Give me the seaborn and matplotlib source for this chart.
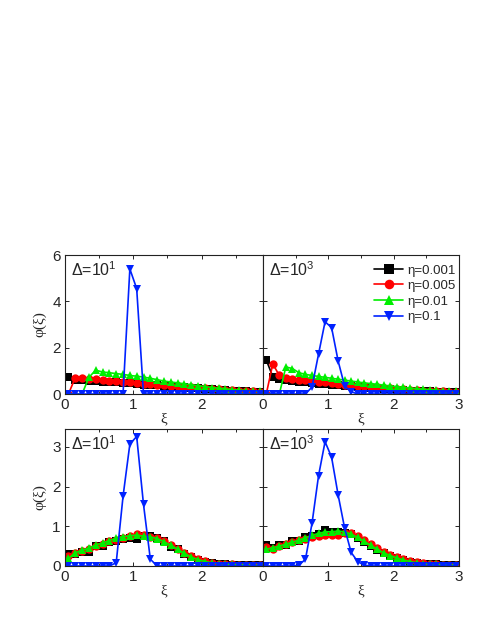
import numpy as np
import pandas as pd
import matplotlib
matplotlib.use("Agg")
import matplotlib.pyplot as plt
import seaborn as sns

# bin centres
xi = [0.05, 0.15, 0.25, 0.35, 0.45, 0.55, 0.65, 0.75, 0.85, 0.95,
      1.05, 1.15, 1.25, 1.35, 1.45, 1.55, 1.65, 1.75, 1.85, 1.95,
      2.05, 2.15, 2.25, 2.35, 2.45, 2.55, 2.65, 2.75, 2.85, 2.95]

etas = ["η=0.001", "η=0.005", "η=0.01", "η=0.1"]
colors = ["#000000", "#ff0000", "#00ee00", "#0022ff"]
markers = ["s", "o", "^", "v"]

# ---- top left, Delta = 10^1
tl_001 = [0.72, 0.62, 0.60, 0.58, 0.56, 0.54, 0.52, 0.50, 0.48, 0.46,
          0.43, 0.41, 0.39, 0.37, 0.35, 0.33, 0.31, 0.29, 0.27, 0.25,
          0.23, 0.21, 0.19, 0.17, 0.15, 0.13, 0.12, 0.10, 0.09, 0.08]
tl_005 = [0.00, 0.70, 0.70, 0.67, 0.64, 0.61, 0.58, 0.55, 0.52, 0.50,
          0.47, 0.45, 0.42, 0.40, 0.38, 0.36, 0.33, 0.31, 0.29, 0.27,
          0.25, 0.23, 0.21, 0.19, 0.17, 0.15, 0.13, 0.12, 0.10, 0.09]
tl_01 = [0.00, 0.00, 0.00, 0.72, 1.03, 0.95, 0.92, 0.88, 0.85, 0.80,
         0.77, 0.73, 0.68, 0.62, 0.56, 0.52, 0.48, 0.44, 0.40, 0.36,
         0.32, 0.28, 0.25, 0.22, 0.19, 0.17, 0.15, 0.13, 0.11, 0.10]
tl_1 = [0.00, 0.00, 0.00, 0.00, 0.00, 0.00, 0.00, 0.00, 0.00, 5.40,
        4.55, 0.00, 0.00, 0.00, 0.00, 0.00, 0.00, 0.00, 0.00, 0.00,
        0.00, 0.00, 0.00, 0.00, 0.00, 0.00, 0.00, 0.00, 0.00, 0.00]

# ---- top right, Delta = 10^3
tr_001 = [1.47, 0.75, 0.65, 0.60, 0.57, 0.54, 0.51, 0.48, 0.45, 0.42,
          0.40, 0.37, 0.35, 0.33, 0.31, 0.29, 0.27, 0.25, 0.23, 0.21,
          0.19, 0.17, 0.15, 0.14, 0.12, 0.11, 0.10, 0.09, 0.08, 0.07]
tr_005 = [0.00, 1.30, 0.80, 0.70, 0.66, 0.62, 0.59, 0.56, 0.53, 0.50,
          0.47, 0.44, 0.41, 0.38, 0.36, 0.33, 0.31, 0.29, 0.27, 0.25,
          0.23, 0.21, 0.19, 0.17, 0.15, 0.14, 0.12, 0.11, 0.10, 0.09]
tr_01 = [0.00, 0.00, 0.00, 1.17, 1.10, 0.92, 0.85, 0.80, 0.76, 0.72,
         0.68, 0.64, 0.60, 0.56, 0.52, 0.48, 0.45, 0.42, 0.38, 0.35,
         0.32, 0.29, 0.26, 0.23, 0.21, 0.19, 0.17, 0.15, 0.13, 0.12]
tr_1 = [0.00, 0.00, 0.00, 0.00, 0.00, 0.00, 0.00, 0.30, 1.72, 3.12,
        2.87, 1.43, 0.34, 0.10, 0.00, 0.00, 0.00, 0.00, 0.00, 0.00,
        0.00, 0.00, 0.00, 0.00, 0.00, 0.00, 0.00, 0.00, 0.00, 0.00]

# ---- bottom left, Delta = 10^1
bl_001 = [0.30, 0.30, 0.36, 0.36, 0.50, 0.50, 0.60, 0.62, 0.68, 0.70,
          0.68, 0.75, 0.75, 0.70, 0.62, 0.48, 0.42, 0.30, 0.22, 0.15,
          0.10, 0.08, 0.05, 0.04, 0.03, 0.03, 0.02, 0.02, 0.02, 0.02]
bl_005 = [0.25, 0.33, 0.38, 0.43, 0.50, 0.55, 0.62, 0.65, 0.70, 0.75,
          0.80, 0.78, 0.74, 0.70, 0.63, 0.53, 0.43, 0.33, 0.24, 0.17,
          0.12, 0.08, 0.06, 0.05, 0.04, 0.03, 0.03, 0.02, 0.02, 0.02]
bl_01 = [0.19, 0.33, 0.40, 0.45, 0.53, 0.58, 0.64, 0.70, 0.74, 0.76,
         0.78, 0.75, 0.73, 0.69, 0.61, 0.52, 0.42, 0.32, 0.22, 0.16,
         0.11, 0.08, 0.06, 0.05, 0.04, 0.03, 0.03, 0.02, 0.02, 0.02]
bl_1 = [0.00, 0.00, 0.00, 0.00, 0.00, 0.00, 0.00, 0.08, 1.75, 3.07,
        3.26, 1.55, 0.17, 0.00, 0.00, 0.00, 0.00, 0.00, 0.00, 0.00,
        0.00, 0.00, 0.00, 0.00, 0.00, 0.00, 0.00, 0.00, 0.00, 0.00]

# ---- bottom right, Delta = 10^3
br_001 = [0.52, 0.45, 0.52, 0.52, 0.62, 0.62, 0.72, 0.75, 0.80, 0.90,
          0.85, 0.85, 0.82, 0.80, 0.70, 0.60, 0.50, 0.40, 0.32, 0.25,
          0.20, 0.14, 0.10, 0.08, 0.06, 0.05, 0.04, 0.03, 0.03, 0.02]
br_005 = [0.48, 0.42, 0.50, 0.55, 0.60, 0.65, 0.68, 0.72, 0.76, 0.78,
          0.78, 0.78, 0.82, 0.84, 0.75, 0.65, 0.55, 0.45, 0.35, 0.28,
          0.22, 0.17, 0.12, 0.09, 0.07, 0.05, 0.04, 0.03, 0.03, 0.02]
br_01 = [0.42, 0.46, 0.50, 0.55, 0.60, 0.65, 0.71, 0.77, 0.82, 0.86,
         0.86, 0.88, 0.86, 0.80, 0.72, 0.62, 0.52, 0.42, 0.33, 0.26,
         0.20, 0.15, 0.11, 0.08, 0.06, 0.05, 0.04, 0.03, 0.03, 0.02]
br_1 = [0.00, 0.00, 0.00, 0.00, 0.00, 0.02, 0.17, 1.07, 2.27, 3.13,
        2.74, 1.79, 0.95, 0.34, 0.11, 0.02, 0.00, 0.00, 0.00, 0.00,
        0.00, 0.00, 0.00, 0.00, 0.00, 0.00, 0.00, 0.00, 0.00, 0.00]

panels = [
    ("Δ=10$^{1}$", [tl_001, tl_005, tl_01, tl_1]),
    ("Δ=10$^{3}$", [tr_001, tr_005, tr_01, tr_1]),
    ("Δ=10$^{1}$", [bl_001, bl_005, bl_01, bl_1]),
    ("Δ=10$^{3}$", [br_001, br_005, br_01, br_1]),
]


def long_frame(series):
    rows = []
    for eta, ys in zip(etas, series):
        for x, y in zip(xi, ys):
            rows.append({"xi": x, "phi": y, "eta": eta})
    return pd.DataFrame(rows)


sns.set_style("ticks")
plt.rcParams["font.family"] = ["Liberation Sans", "DejaVu Sans"]
plt.rcParams["mathtext.fontset"] = "custom"
plt.rcParams["mathtext.rm"] = "Liberation Sans"
plt.rcParams["mathtext.it"] = "Liberation Sans"
plt.rcParams["mathtext.default"] = "regular"

fig = plt.figure(figsize=(4.8, 6.21), dpi=100)
# axes boxes in figure fraction (left, bottom, width, height)
boxes = [
    (0.1354, 0.3655, 0.4125, 0.2238),
    (0.5479, 0.3655, 0.4083, 0.2238),
    (0.1354, 0.0886, 0.4125, 0.2206),
    (0.5479, 0.0886, 0.4083, 0.2206),
]

for i, ((tag, series), box) in enumerate(zip(panels, boxes)):
    ax = fig.add_axes(box)
    df = long_frame(series)
    sns.lineplot(data=df, x="xi", y="phi", hue="eta", style="eta",
                 hue_order=etas, style_order=etas, palette=colors,
                 markers=markers, dashes=False, markersize=6,
                 markeredgewidth=0, linewidth=1.2, errorbar=None,
                 legend=(i == 1), ax=ax)

    top = i < 2
    left = i % 2 == 0
    ax.set_xlim(0, 2.9 if left else 3.0)
    ax.set_ylim(0, 6 if top else 3.45)
    ax.set_xticks([0, 1, 2] if left else [0, 1, 2, 3])
    ax.set_xticks(np.arange(0.5, 3.0, 1.0), minor=True)
    if top:
        ax.set_yticks([0, 2, 4, 6])
    else:
        ax.set_yticks([0, 1, 2, 3])
    ax.tick_params(direction="in", top=True, right=True, which="both",
                   labelsize=11, length=3, width=0.7, pad=3)
    ax.tick_params(which="minor", length=2)
    if not left:
        ax.set_yticklabels([])
    for s in ax.spines.values():
        s.set_linewidth(0.8)
        s.set_color("#222222")

    ax.set_xlabel("ξ", family=["Liberation Serif", "DejaVu Serif"],
                  fontsize=11, labelpad=0)
    if left:
        ax.set_ylabel("φ(ξ)", family=["Liberation Serif", "DejaVu Serif"],
                      fontsize=11, labelpad=4)
    else:
        ax.set_ylabel("")

    ax.text(0.03, 0.96, tag, transform=ax.transAxes, ha="left", va="top",
            fontsize=11.5)

    if i == 1:
        ax.legend(loc="upper right", bbox_to_anchor=(1.03, 1.0),
                  frameon=False, fontsize=9.5, handlelength=2.2,
                  handletextpad=0.3, labelspacing=0.25, borderaxespad=0.3,
                  markerscale=1.15)

fig.savefig("out.png", dpi=100)
